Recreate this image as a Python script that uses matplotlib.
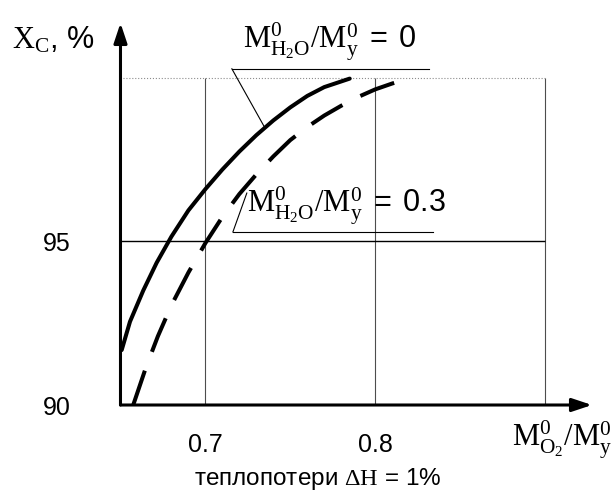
import matplotlib
matplotlib.use("Agg")
import matplotlib.pyplot as plt

# solid curve, M_H2O/M_y = 0
x_dry = [0.6507, 0.6556, 0.6634, 0.6713, 0.68, 0.69, 0.70, 0.71, 0.72, 0.73, 0.74,
         0.75, 0.76, 0.77, 0.785]
y_dry = [91.68, 92.55, 93.50, 94.35, 95.15, 95.95, 96.60, 97.20, 97.75, 98.25, 98.70,
         99.10, 99.45, 99.72, 99.98]

# dashed curve, M_H2O/M_y = 0.3
x_wet = [0.6575, 0.665, 0.672, 0.68, 0.69, 0.70, 0.71, 0.72, 0.73, 0.74, 0.75,
         0.76, 0.77, 0.78, 0.79, 0.80, 0.81, 0.8184]
y_wet = [90.0, 91.15, 92.10, 93.05, 94.05, 94.95, 95.75, 96.45, 97.05, 97.60, 98.10,
         98.50, 98.85, 99.15, 99.42, 99.65, 99.83, 99.96]

x_ticks = [0.7, 0.8]
y_ticks = [90, 95]
x_grid = [0.7, 0.8, 0.9]

plt.rcParams['font.family'] = ['Liberation Sans', 'DejaVu Sans']
plt.rcParams['mathtext.fontset'] = 'custom'
plt.rcParams['mathtext.rm'] = 'Liberation Serif'
plt.rcParams['mathtext.it'] = 'Liberation Serif:italic'
plt.rcParams['mathtext.bf'] = 'Liberation Serif:bold'
plt.rcParams['mathtext.sf'] = 'Liberation Sans'

fig = plt.figure(figsize=(6.16, 4.97), dpi=100)
ax = fig.add_axes([0.1956, 0.1851, 0.7654, 0.7686])
ax.set_xlim(0.65, 0.9277)
ax.set_ylim(90, 101.68)
for s in ax.spines.values():
    s.set_visible(False)

# grid
ax.vlines(x_grid, 90, 100, colors='0.3', lw=0.8)
ax.hlines(95, 0.65, 0.9, colors='k', lw=1.0)
ax.hlines(100, 0.65, 0.9, colors='0.55', lw=0.8, linestyles=':')

# axes with arrows
arrow = dict(arrowstyle='-|>,head_length=0.6,head_width=0.2', lw=2.2, color='k',
             shrinkA=0, shrinkB=0, mutation_scale=20)
ax.annotate('', xy=(1, 0), xytext=(0, 0), xycoords='axes fraction', arrowprops=arrow)
ax.annotate('', xy=(0, 1), xytext=(0, 0), xycoords='axes fraction', arrowprops=arrow)

# curves
ax.plot(x_dry, y_dry, color='k', lw=2.9, solid_capstyle='round', clip_on=False)
ax.plot(x_wet, y_wet, color='k', lw=2.9, dashes=(9, 5), clip_on=False)

ax.set_xticks(x_ticks)
ax.set_xticklabels(['0.7', '0.8'])
ax.set_yticks(y_ticks)
ax.set_yticklabels(['90', '95'])
ax.tick_params(length=0, labelsize=18)
ax.tick_params(axis='y', pad=36)
ax.tick_params(axis='x', pad=20)

# labels with leaders
ax.text(0.7223, 100.45, r'$\mathrm{M}^{0}_{\mathrm{H_2O}}/\mathrm{M}^{0}_{\mathrm{y}}\mathsf{\ =\ 0}$',
        fontsize=22, ha='left', va='bottom', clip_on=False)
ax.plot([0.7156, 0.832], [100.28, 100.28], color='k', lw=0.8, clip_on=False)
ax.plot([0.7156, 0.735], [100.28, 98.48], color='k', lw=0.8, clip_on=False)

ax.text(0.7245, 95.45, r'$\mathrm{M}^{0}_{\mathrm{H_2O}}/\mathrm{M}^{0}_{\mathrm{y}}\mathsf{\ =\ 0.3}$',
        fontsize=22, ha='left', va='bottom')
ax.plot([0.7162, 0.8338], [95.29, 95.29], color='k', lw=0.8)
ax.plot([0.7162, 0.7244], [95.29, 96.48], color='k', lw=0.8)

fig.text(12 / 616, 1 - 40 / 497, r'$\mathrm{X}_{\mathrm{C}}$, %', fontsize=22,
         ha='left', va='center')
fig.text(612 / 616, 1 - 440 / 497, r'$\mathrm{M}^{0}_{\mathrm{O_2}}/\mathrm{M}^{0}_{\mathrm{y}}$',
         fontsize=22, ha='right', va='center')
fig.text(318 / 616, 1 - 479 / 497, r'теплопотери $\Delta\mathrm{H}$ = 1%', fontsize=17.5,
         ha='center', va='center')

fig.savefig('out.png', dpi=100)
